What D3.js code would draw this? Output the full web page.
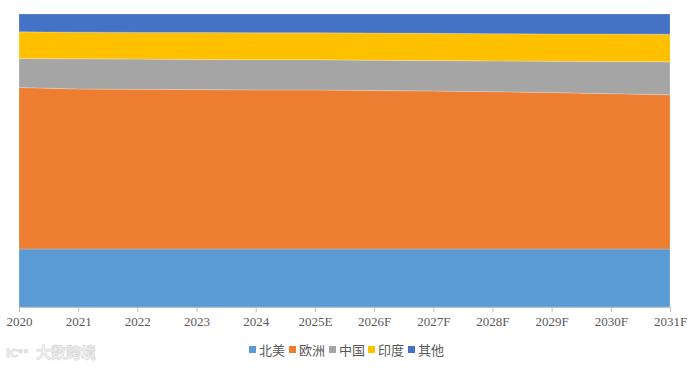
<!DOCTYPE html>
<html><head><meta charset="utf-8">
<script src="https://cdn.jsdelivr.net/npm/d3@7"></script>
<style>
html,body{margin:0;padding:0;background:#fff;}
svg{display:block;}
</style></head>
<body>
<svg id="chart" width="692" height="370"></svg>
<script>
const categories = ["2020","2021","2022","2023","2024","2025E","2026F","2027F","2028F","2029F","2030F","2031F"];
const seriesNames = ["北美","欧洲","中国","印度","其他"];
const northAmerica = [19.8,19.8,19.8,19.8,19.8,19.8,19.8,19.8,19.8,19.8,19.8,19.8];
const europe       = [55.1,54.6,54.5,54.4,54.3,54.3,54.1,53.9,53.7,53.4,53.0,52.6];
const china        = [9.9,10.3,10.3,10.3,10.3,10.3,10.3,10.4,10.5,10.7,11.0,11.3];
const india        = [9.1,9.1,9.1,9.2,9.2,9.2,9.3,9.3,9.3,9.3,9.4,9.4];
const others       = [6.1,6.2,6.3,6.3,6.4,6.4,6.5,6.6,6.7,6.8,6.8,6.9];
const colors = ["#5B9BD5","#ED7D31","#A5A5A5","#FFC000","#4472C4"];

const seriesValues = [northAmerica, europe, china, india, others];
const rows = categories.map((c,i)=>{
  const r = {cat:c};
  seriesNames.forEach((s,j)=>{ r[s] = seriesValues[j][i]; });
  return r;
});

const svg = d3.select("#chart");
const margin = {left:19, right:22, top:14, bottom:63};
const W = 692, H = 370;
const x = d3.scalePoint().domain(categories).range([margin.left, W - margin.right]);
const y = d3.scaleLinear().domain([0,1]).range([H - margin.bottom, margin.top]);

const stack = d3.stack().keys(seriesNames).offset(d3.stackOffsetExpand);
const stacked = stack(rows);

const area = d3.area()
  .x(d => x(d.data.cat))
  .y0(d => y(d[0]))
  .y1(d => y(d[1]));

svg.append("g").selectAll("path").data(stacked).join("path")
  .attr("d", area)
  .attr("fill", (d,i) => colors[i])
  .attr("stroke", "rgba(255,255,255,0.35)")
  .attr("stroke-width", 0.6);

// x axis
const axis = d3.axisBottom(x).tickSize(5).tickPadding(5);
const gx = svg.append("g").attr("transform", `translate(0,${H - margin.bottom})`).call(axis);
gx.select(".domain").attr("stroke", "#bfbfbf").attr("stroke-width", 1);
gx.selectAll(".tick line").attr("stroke", "#bfbfbf");
gx.selectAll(".tick text")
  .attr("fill", "#595959")
  .style("font-family", "'Liberation Serif','Times New Roman',serif")
  .style("font-size", "13px");

// legend
const legendX = [249, 289, 329, 368, 408];
const lg = svg.append("g");
seriesNames.forEach((s,i)=>{
  lg.append("rect").attr("x", legendX[i]).attr("y", 346).attr("width", 7).attr("height", 7).attr("fill", colors[i]);
  lg.append("text").attr("x", legendX[i] + 10).attr("y", 350).attr("dy", "0.35em")
    .attr("fill", "#595959")
    .style("font-family", "'Noto Sans CJK SC','Noto Sans',sans-serif")
    .style("font-size", "13px")
    .text(s);
});

// watermark
svg.append("text").attr("x", 36).attr("y", 358)
  .attr("fill", "#f6f6f6").attr("stroke", "#dcdcdc").attr("stroke-width", 0.8)
  .style("font-family", "'Noto Sans CJK SC',sans-serif")
  .style("font-size", "15px").style("font-weight", "bold")
  .text("大数跨境");
svg.append("text").attr("x", 6).attr("y", 357)
  .attr("fill", "#f6f6f6").attr("stroke", "#dcdcdc").attr("stroke-width", 0.8)
  .style("font-family", "'DejaVu Sans',sans-serif")
  .style("font-size", "11px").style("font-weight", "bold")
  .text("lC°°");
</script>
</body></html>
